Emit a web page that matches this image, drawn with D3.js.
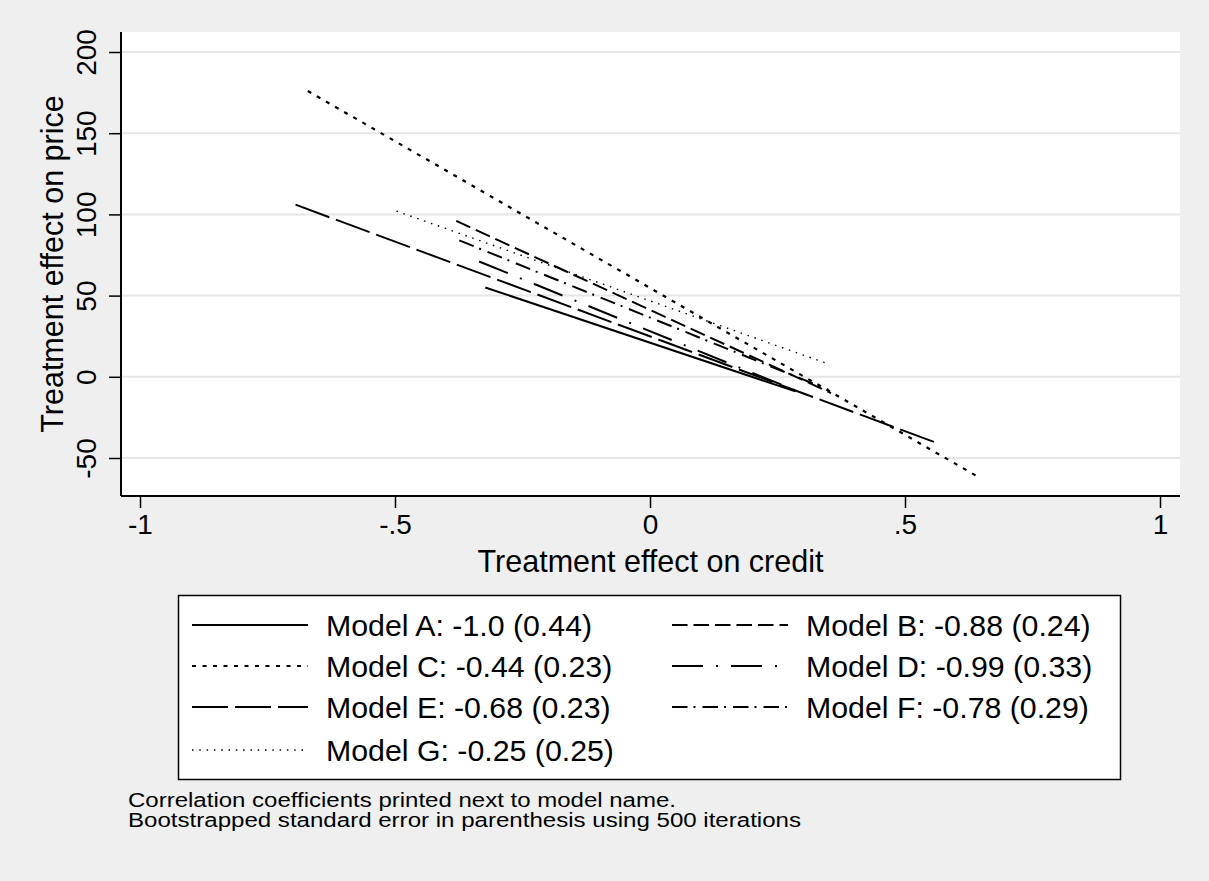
<!DOCTYPE html>
<html><head><meta charset="utf-8">
<script src="https://cdn.jsdelivr.net/npm/d3@7"></script>
<style>
html,body{margin:0;padding:0;background:#efefef;}
svg{display:block;font-family:"Liberation Sans",Arial,Helvetica,sans-serif;}
</style></head>
<body>
<svg id="c" width="1209" height="881"></svg>
<script>
// ---- data ----
const models = ["Model A","Model B","Model C","Model D","Model E","Model F","Model G"];
const corr   = ["-1.0","-0.88","-0.44","-0.99","-0.68","-0.78","-0.25"];
const se     = ["0.44","0.24","0.23","0.33","0.23","0.29","0.25"];
const xStart = [-0.323,-0.380,-0.671,-0.335,-0.695,-0.374,-0.497];
const yStart = [55,96,176,71,106,84,102];
const xEnd   = [0.285,0.355,0.640,0.290,0.560,0.350,0.349];
const yEnd   = [-9,-10,-61,-9,-40.5,-8,8];
const xTicks = [-1,-0.5,0,0.5,1];
const xTickLabels = ["-1","-.5","0",".5","1"];
const yTicks = [-50,0,50,100,150,200];
const yTickLabels = ["-50","0","50","100","150","200"];
const notes = ["Correlation coefficients printed next to model name.",
               "Bootstrapped standard error in parenthesis using 500 iterations"];

// ---- styles ----
const dashes = [null,"15.5,6","4,6.5","31,13,2,13","36,7","15.5,6,2,7","1.5,5.8"];
const widths = [2,2,2.2,2,2,2,1.4];
const noteWidths = [548,673];

const svg = d3.select("#c");
const plot = {l:121, r:1180, t:32, b:496};
const x = d3.scaleLinear().domain([-1,1]).range([140,1160]);
const y = d3.scaleLinear().domain([-50,200]).range([458,52]);

svg.append("rect").attr("width",1209).attr("height",881).attr("fill","#efefef");
svg.append("rect").attr("x",plot.l).attr("y",plot.t).attr("width",plot.r-plot.l).attr("height",plot.b-plot.t).attr("fill","#fff");

// gridlines
svg.append("g").selectAll("line").data(yTicks).join("line")
  .attr("x1",plot.l).attr("x2",plot.r).attr("y1",d=>y(d)).attr("y2",d=>y(d))
  .attr("stroke","#e6e6e6").attr("stroke-width",2);

// axes
const xAxis = d3.axisBottom(x).tickValues(xTicks).tickFormat((d,i)=>xTickLabels[i]).tickSize(12).tickSizeOuter(0).tickPadding(6);
const gx = svg.append("g").attr("transform",`translate(0,${plot.b})`).call(xAxis);
gx.select(".domain").attr("d",`M${plot.l},0H${plot.r}`).attr("stroke","#000").attr("stroke-width",2);
gx.selectAll(".tick line").attr("stroke","#000").attr("stroke-width",1.5);
gx.selectAll(".tick text").attr("font-size",28).attr("fill","#000").attr("font-family","Liberation Sans, Arial, sans-serif").attr("dy","0.72em");

const yAxis = d3.axisLeft(y).tickValues(yTicks).tickSize(12).tickSizeOuter(0).tickFormat((d,i)=>yTickLabels[i]);
const gy = svg.append("g").attr("transform",`translate(${plot.l},0)`).call(yAxis);
gy.select(".domain").attr("d",`M0,${plot.t}V${plot.b}`).attr("stroke","#000").attr("stroke-width",2);
gy.selectAll(".tick line").attr("stroke","#000").attr("stroke-width",1.5);
gy.selectAll(".tick text").attr("font-size",28).attr("fill","#000").attr("font-family","Liberation Sans, Arial, sans-serif")
  .attr("text-anchor","middle").attr("x",null).attr("dy",null)
  .attr("transform","translate(-25,0) rotate(-90)");

// lines
const line = d3.line().x(d=>x(d[0])).y(d=>y(d[1]));
svg.append("g").selectAll("path").data(models).join("path")
  .attr("d",(d,i)=>line([[xStart[i],yStart[i]],[xEnd[i],yEnd[i]]]))
  .attr("fill","none").attr("stroke","#000")
  .attr("stroke-width",(d,i)=>widths[i])
  .attr("stroke-dasharray",(d,i)=>dashes[i]);

// axis titles
svg.append("text").attr("x",(plot.l+plot.r)/2).attr("y",572).attr("text-anchor","middle")
  .attr("font-size",30.5).text("Treatment effect on credit");
svg.append("text").attr("transform",`translate(63,${(plot.t+plot.b)/2}) rotate(-90)`).attr("text-anchor","middle")
  .attr("font-size",30.5).text("Treatment effect on price");

// legend
const lg = svg.append("g");
lg.append("rect").attr("x",178.5).attr("y",595.5).attr("width",942).attr("height",184)
  .attr("fill","#fff").attr("stroke","#000").attr("stroke-width",1.5);
const rowY = [625,666,707,750];
const colX = [192,672];
models.forEach((m,i)=>{
  const c = i%2, r = Math.floor(i/2);
  const g = lg.append("g").attr("transform",`translate(${colX[c]},${rowY[r]})`);
  g.append("line").attr("x1",0).attr("x2",116).attr("y1",0).attr("y2",0)
    .attr("stroke","#000").attr("stroke-width",widths[i]).attr("stroke-dasharray",dashes[i]);
  g.append("text").attr("x",134).attr("y",10.5).attr("font-size",30.3)
    .text(`${m}: ${corr[i]} (${se[i]})`);
});

// notes
svg.append("g").selectAll("text").data(notes).join("text")
  .attr("x",128).attr("y",(d,i)=>807+i*20).attr("font-size",19.5)
  .attr("textLength",(d,i)=>noteWidths[i]).attr("lengthAdjust","spacingAndGlyphs")
  .text(d=>d);
</script>
</body></html>
